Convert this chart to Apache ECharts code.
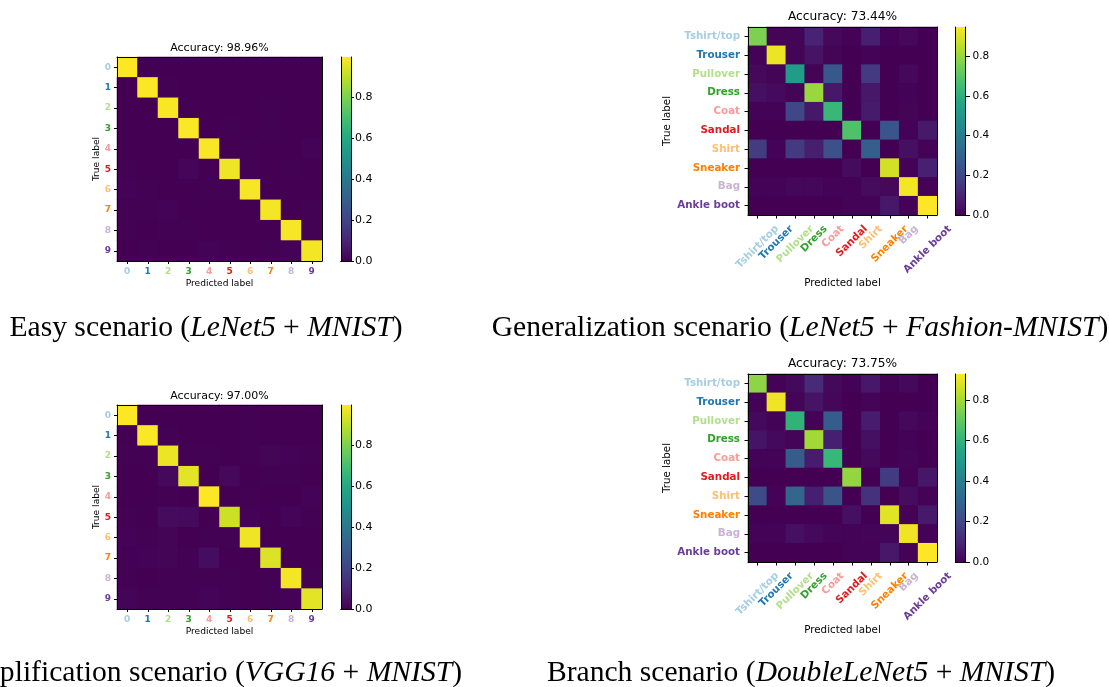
<!DOCTYPE html>
<html><head><meta charset="utf-8">
<script src="https://cdn.jsdelivr.net/npm/echarts@6/dist/echarts.min.js"></script>
<style>html,body{margin:0;padding:0;background:#fff}#c{width:1109px;height:687px}</style>
</head><body><div id="c"></div>
<script>
// ---------- data ----------
const viridis = ['#440154','#482475','#414487','#355f8d','#2a788e','#21918c','#22a884','#44bf70','#7ad151','#bddf26','#fde725'];
const digitLabels = ['0','1','2','3','4','5','6','7','8','9'];
const fashionLabels = ['Tshirt/top','Trouser','Pullover','Dress','Coat','Sandal','Shirt','Sneaker','Bag','Ankle boot'];
const labelColors = ['#a6cee3','#1f78b4','#b2df8a','#33a02c','#fb9a99','#e31a1c','#fdbf6f','#ff7f00','#cab2d6','#6a3d9a'];
const colorbarTicks = [0, 0.2, 0.4, 0.6, 0.8];
const accuracyTitles = ['Accuracy: 98.96%', 'Accuracy: 73.44%', 'Accuracy: 97.00%', 'Accuracy: 73.75%'];
const captionTexts = [
  'Easy scenario ({i|LeNet5} + {i|MNIST})',
  'Generalization scenario ({i|LeNet5} + {i|Fashion-MNIST})',
  'Simplification scenario ({i|VGG16} + {i|MNIST})',
  'Branch scenario ({i|DoubleLeNet5} + {i|MNIST})'
];

const easyMatrix = [
  [0.997,0,0.001,0,0,0.001,0.001,0,0,0],
  [0,0.995,0.002,0.001,0,0.001,0.001,0,0,0],
  [0.001,0.001,0.990,0.002,0.001,0,0,0.004,0.001,0],
  [0,0,0.001,0.992,0,0.003,0,0.002,0.001,0.001],
  [0,0,0.001,0,0.990,0,0.002,0,0.001,0.006],
  [0.004,0.001,0.001,0.015,0,0.972,0.003,0.001,0.002,0.001],
  [0.005,0.002,0,0,0.002,0.003,0.987,0,0.001,0],
  [0.002,0.002,0.006,0.001,0,0,0,0.985,0.001,0.003],
  [0.004,0,0.002,0.002,0,0.001,0.001,0.001,0.987,0.002],
  [0.001,0.002,0,0.001,0.005,0.002,0,0.004,0.005,0.982]
];
const generalizationMatrix = [
  [0.76,0.01,0.01,0.09,0.02,0.005,0.08,0.005,0.02,0],
  [0.005,0.92,0.01,0.05,0.01,0,0.005,0,0,0],
  [0.02,0.01,0.52,0.01,0.26,0,0.16,0,0.02,0],
  [0.04,0.025,0.01,0.80,0.06,0,0.06,0,0.005,0],
  [0.005,0.005,0.20,0.06,0.63,0,0.07,0,0.01,0],
  [0,0,0,0,0,0.68,0,0.25,0.005,0.065],
  [0.17,0.005,0.16,0.08,0.23,0,0.28,0,0.04,0.005],
  [0,0,0,0,0,0.03,0,0.88,0.005,0.085],
  [0.005,0.005,0.015,0.015,0.005,0.005,0.03,0.02,0.93,0.005],
  [0,0,0,0,0,0.005,0.005,0.06,0.005,0.947]
];
const simplificationMatrix = [
  [0.995,0,0.001,0,0,0.001,0.002,0.001,0,0],
  [0,0.993,0.002,0.001,0,0,0.002,0.001,0.001,0],
  [0.002,0.002,0.970,0.004,0.003,0,0.002,0.01,0.005,0.002],
  [0,0,0.02,0.955,0,0.02,0,0.002,0.002,0.001],
  [0,0.001,0.003,0,0.997,0,0.002,0,0,0.005],
  [0.003,0,0.03,0.025,0.001,0.92,0.006,0.001,0.012,0.002],
  [0.006,0.003,0.01,0,0.003,0.003,0.975,0,0,0],
  [0.002,0.006,0.01,0.002,0.035,0,0,0.945,0,0],
  [0.004,0.001,0.004,0.002,0.002,0.002,0.001,0.002,0.985,0.003],
  [0.012,0.002,0.003,0.004,0.012,0.003,0,0.004,0.005,0.955]
];
const branchMatrix = [
  [0.77,0.005,0.02,0.11,0.02,0.005,0.06,0.005,0.02,0],
  [0.005,0.91,0.01,0.05,0.015,0,0.01,0,0,0],
  [0.02,0.005,0.60,0.005,0.27,0,0.07,0,0.02,0.005],
  [0.05,0.02,0.01,0.80,0.08,0,0.04,0,0.005,0],
  [0.005,0.005,0.27,0.07,0.62,0,0.02,0,0.01,0],
  [0,0,0,0,0,0.78,0,0.16,0.005,0.055],
  [0.21,0.005,0.30,0.08,0.24,0,0.13,0,0.03,0.005],
  [0,0,0,0,0,0.04,0,0.89,0.005,0.065],
  [0.005,0.005,0.04,0.02,0.01,0.005,0.01,0.01,0.91,0.005],
  [0,0,0,0,0,0.005,0.005,0.06,0.005,0.93]
];

// ---------- layout ----------
const FONT = 'DejaVu Sans';
const CAP_FS = 29.6;
const panels = [
  {m: easyMatrix, labels: digitLabels, title: accuracyTitles[0], rot: false,
   heat: {l:117, t:57, w:205, h:204}, cb: {l:341, t:57, w:10, h:204},
   fs: {tick:9, title:11, name:9.1, cb:11}, tickLen:3, cbTickLen:3, cbMargin:4, yMargin:6, xMargin:6,
   titleY:48, nameX:97, nameY:284, cap: {x:206, y:328, align:'center'}},
  {m: generalizationMatrix, labels: fashionLabels, title: accuracyTitles[1], rot: true,
   heat: {l:748, t:27, w:189, h:188}, cb: {l:955.5, t:27, w:10, h:188},
   fs: {tick:10.3, title:12.2, name:10.3, cb:10.5}, tickLen:3.5, cbTickLen:4.5, cbMargin:7, yMargin:8, xPad:8,
   titleY:16.5, nameX:667, nameY:283, cap: {x:800, y:328, align:'center'}},
  {m: simplificationMatrix, labels: digitLabels, title: accuracyTitles[2], rot: false,
   heat: {l:117, t:405, w:205, h:204}, cb: {l:341, t:405, w:10, h:204},
   fs: {tick:9, title:11, name:9.1, cb:11}, tickLen:3, cbTickLen:3, cbMargin:4, yMargin:6, xMargin:6,
   titleY:396, nameX:97, nameY:632, cap: {x:462, y:673, align:'right'}},
  {m: branchMatrix, labels: fashionLabels, title: accuracyTitles[3], rot: true,
   heat: {l:748, t:374, w:189, h:188}, cb: {l:955.5, t:374, w:10, h:188},
   fs: {tick:10.3, title:12.2, name:10.3, cb:10.5}, tickLen:3.5, cbTickLen:4.5, cbMargin:7, yMargin:8, xPad:8,
   titleY:363.5, nameX:667, nameY:630, cap: {x:801, y:673, align:'center'}}
];

const chart = echarts.init(document.getElementById('c'), null, {renderer:'canvas'});
const grid = [], xAxis = [], yAxis = [], series = [], visualMap = [], graphic = [];
const line = {show:true, lineStyle:{color:'#000', width:1}};

function styledLabels(labels, fs) {
  return labels.map((v, k) => ({value: v, textStyle: {color: labelColors[k], fontWeight:'bold', fontFamily: FONT, fontSize: fs}}));
}

panels.forEach((p, i) => {
  const vmax = Math.max(...p.m.flat());
  const gh = grid.length;
  grid.push({left:p.heat.l, top:p.heat.t, width:p.heat.w, height:p.heat.h, containLabel:false,
    show:true, backgroundColor: viridis[0], borderWidth:0});
  const gc = grid.length;
  grid.push({left:p.cb.l, top:p.cb.t, width:p.cb.w, height:p.cb.h, containLabel:false});

  // heatmap axes
  p.xIdx = xAxis.length;
  xAxis.push({gridIndex:gh, type:'category', data: styledLabels(p.labels, p.fs.tick), position:'bottom', z:10,
    axisLine: line, axisTick:{show:true, alignWithLabel:true, length:p.tickLen, lineStyle:{color:'#000'}},
    axisLabel:{show: !p.rot, margin: p.xMargin || 6, interval:0, fontFamily:FONT, fontSize:p.fs.tick, fontWeight:'bold'},
    splitLine:{show:false}});
  xAxis.push({gridIndex:gh, type:'category', data: p.labels, position:'top', z:10,
    axisLine: line, axisTick:{show:false}, axisLabel:{show:false}, splitLine:{show:false}});
  const yIdx = yAxis.length;
  yAxis.push({gridIndex:gh, type:'category', data: styledLabels(p.labels, p.fs.tick), inverse:true, position:'left', z:10,
    axisLine: line, axisTick:{show:true, alignWithLabel:true, length:p.tickLen, lineStyle:{color:'#000'}},
    axisLabel:{margin:p.yMargin, interval:0, fontFamily:FONT, fontSize:p.fs.tick, fontWeight:'bold'},
    splitLine:{show:false}});
  yAxis.push({gridIndex:gh, type:'category', data: p.labels, inverse:true, position:'right', z:10,
    axisLine: line, axisTick:{show:false}, axisLabel:{show:false}, splitLine:{show:false}});

  // colorbar axes
  const cxIdx = xAxis.length;
  xAxis.push({gridIndex:gc, type:'category', data:['cb'], position:'bottom', z:10, axisLine: line,
    axisTick:{show:false}, axisLabel:{show:false}, splitLine:{show:false}});
  xAxis.push({gridIndex:gc, type:'category', data:['cb'], position:'top', z:10, axisLine: line,
    axisTick:{show:false}, axisLabel:{show:false}, splitLine:{show:false}});
  const cyIdx = yAxis.length;
  yAxis.push({gridIndex:gc, type:'value', min:0, max:vmax, position:'right', z:10, axisLine: line,
    axisTick:{show:true, length:p.cbTickLen, customValues: colorbarTicks, lineStyle:{color:'#000'}},
    axisLabel:{margin:p.cbMargin, customValues: colorbarTicks, fontFamily:FONT, fontSize:p.fs.cb, color:'#000',
      formatter: v => Number(v).toFixed(1)},
    splitLine:{show:false}});
  yAxis.push({gridIndex:gc, type:'value', min:0, max:vmax, position:'left', z:10, axisLine: line,
    axisTick:{show:false}, axisLabel:{show:false}, splitLine:{show:false}});

  // heatmap series
  const data = [];
  p.m.forEach((row, r) => row.forEach((v, c) => data.push([c, r, v])));
  const sIdx = series.length;
  series.push({type:'heatmap', xAxisIndex:p.xIdx, yAxisIndex:yIdx, data, animation:false, progressive:0,
    emphasis:{disabled:true}, itemStyle:{borderWidth:0}});
  visualMap.push({type:'continuous', show:false, min:0, max:vmax, dimension:2, seriesIndex:sIdx, inRange:{color: viridis}});

  // colorbar bar
  const stops = viridis.map((c, k) => ({offset: 1 - k / (viridis.length - 1), color: c})).reverse();
  series.push({type:'bar', xAxisIndex:cxIdx, yAxisIndex:cyIdx, data:[vmax], barWidth:'100%', silent:true, animation:false,
    itemStyle:{color: new echarts.graphic.LinearGradient(0,0,0,1, stops)}});

  // texts
  const cx = p.heat.l + p.heat.w / 2;
  graphic.push({type:'text', x: cx, y: p.titleY, silent:true,
    style:{text:p.title, fontFamily:FONT, fontSize:p.fs.title, fill:'#000', align:'center', verticalAlign:'middle'}});
  graphic.push({type:'text', x: cx, y: p.nameY, silent:true,
    style:{text:'Predicted label', fontFamily:FONT, fontSize:p.fs.name, fill:'#000', align:'center', verticalAlign:'middle'}});
  graphic.push({type:'text', x: p.nameX, y: p.heat.t + p.heat.h / 2, rotation: Math.PI/2, silent:true,
    style:{text:'True label', fontFamily:FONT, fontSize:p.fs.name, fill:'#000', align:'center', verticalAlign:'middle'}});
  graphic.push({type:'text', x: p.cap.x, y: p.cap.y, silent:true,
    style:{text: captionTexts[i], fontFamily:'Liberation Serif', fontSize:CAP_FS, fill:'#000', align:p.cap.align, verticalAlign:'middle',
      rich:{i:{fontStyle:'italic', fontFamily:'Liberation Serif', fontSize:CAP_FS, fill:'#000'}}}});
});

chart.setOption({animation:false, backgroundColor:'#fff', grid, xAxis, yAxis, series, visualMap, graphic});

// rotated x labels (matplotlib-style centered) positioned via the axis scale
const ctx = document.createElement('canvas').getContext('2d');
panels.forEach(p => {
  if (!p.rot) return;
  ctx.font = 'bold ' + p.fs.tick + 'px "' + FONT + '"';
  const axisY = p.heat.t + p.heat.h;
  p.labels.forEach((lab, k) => {
    const px = chart.convertToPixel({xAxisIndex: p.xIdx}, lab);
    const w = ctx.measureText(lab).width;
    const h = p.fs.tick * 1.17;
    const cy = axisY + p.xPad + (w + h) * Math.SQRT1_2 / 2;
    graphic.push({type:'text', x: px, y: cy, rotation: Math.PI/4, silent:true,
      style:{text: lab, fontFamily:FONT, fontSize:p.fs.tick, fontWeight:'bold', fill: labelColors[k], align:'center', verticalAlign:'middle'}});
  });
});
chart.setOption({graphic});
</script></body></html>
